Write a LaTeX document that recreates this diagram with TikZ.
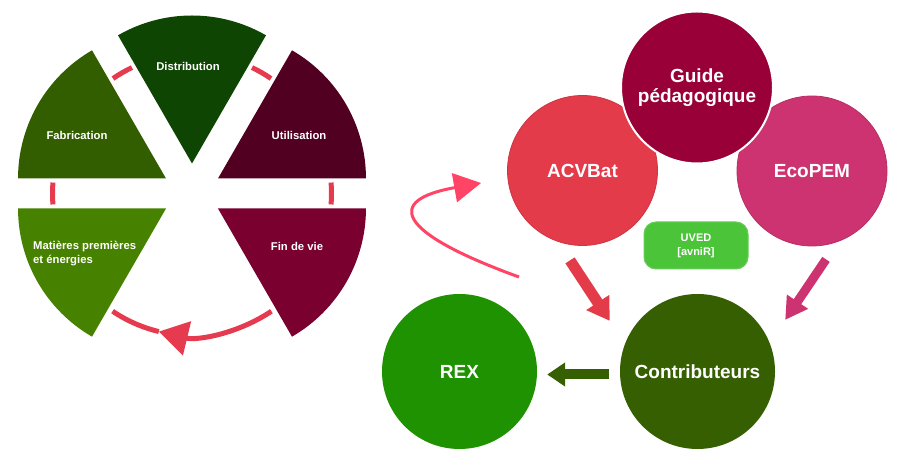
\documentclass[tikz,border=0pt]{standalone}
\usepackage{fontspec}
\setmainfont{Liberation Sans}
\usetikzlibrary{arrows.meta,positioning,calc}
\definecolor{vertD}{HTML}{0E4502}
\definecolor{vertF}{HTML}{335E00}
\definecolor{vertM}{HTML}{468200}
\definecolor{bordU}{HTML}{520022}
\definecolor{bordV}{HTML}{7A0030}
\definecolor{rouge}{HTML}{E63B4F}
\definecolor{rougeA}{HTML}{E43B4A}
\definecolor{bordG}{HTML}{990038}
\definecolor{roseE}{HTML}{CC3370}
\definecolor{vertC}{HTML}{355F00}
\definecolor{vertR}{HTML}{1E9200}
\definecolor{vertU}{HTML}{4CC43A}
\definecolor{roseC}{HTML}{FF4466}
\tikzset{
  txt/.style={text=white,inner sep=0pt,font=\bfseries\fontsize{11.3}{14}\selectfont},
  tir/.style={line width=5pt,rouge},
  rond/.style={circle,fill=#1,minimum size=150pt,inner sep=0pt,text=white,align=center,
    font=\bfseries\fontsize{19}{20}\selectfont},
  boite/.style={draw=vertU!85!white,fill=vertU,line width=1pt,rounded corners=12pt,
    minimum width=104pt,minimum height=47pt,align=center,text=white,
    font=\bfseries\fontsize{11}{14}\selectfont},
  fl/.style={line width=10pt,-{Triangle[length=22pt,width=26pt]}},
  courbe/.style={line width=3pt,roseC,-{Triangle[length=27pt,width=29pt]}},
}
\begin{document}
\begin{tikzpicture}[x=1pt,y=1pt]
  \useasboundingbox (0,0) rectangle (900,465);
  \begin{scope}[shift={(192,271.5)}]
    \foreach \a/\c in {0/bordU,60/vertD,120/vertF,180/vertM,300/bordV}
      \fill[\c] (\a+30:30) -- ++(\a:148) arc[start angle=\a,delta angle=60,radius=148] -- cycle;
    \foreach \a in {0,60,120,180}
      \draw[tir] (\a-4.5:139.5) arc[start angle=\a-4.5,delta angle=9,radius=139.5];
    \draw[tir,-{Triangle[length=29pt,width=34pt]}] (-56:142) arc[start angle=-56,end angle=-103.5,radius=142];
    \draw[tir] (-103.5:142) arc[start angle=-103.5,end angle=-124,radius=142];
    \node[txt] (dist) at (-4,127.5) {Distribution};
    \node[txt] (fab) at (-115,58.5) {Fabrication};
    \node[txt] (util) at (107,58.5) {Utilisation};
    \node[txt] (fin) at (105,-52.5) {Fin de vie};
    \node[txt,align=left,anchor=west] (mat) at (-159,-60.5) {Matières premières\\et énergies};
  \end{scope}
  \node[rond=rougeA,draw=rougeA!90!black,line width=0.8pt] (acv) at (582.5,294.5) {ACVBat};
  \node[rond=roseE,draw=roseE!90!black,line width=0.8pt] (eco) at (812,294) {EcoPEM};
  \node[rond=bordG,draw=white,line width=2pt,minimum size=152pt] (guide) at (697,377.5) {Guide\\pédagogique};
  \node[rond=vertC,minimum size=155pt] (contrib) at (697.5,93.5) {Contributeurs};
  \node[rond=vertR,minimum size=155pt] (rex) at (459.5,93.5) {REX};
  \node[boite] (uved) at (696,219.5) {UVED\\{[avniR]}};
  \draw[fl,rougeA,line width=11pt] ([shift={(-12.5,-14.5)}]acv.south) -- ([shift={(-20.4,11.75)}]contrib.150);
  \draw[fl,roseE,line width=9pt,-{Triangle[length=22pt,width=24pt]}] ([shift={(14,-13)}]eco.south) -- ([shift={(20.4,12.75)}]contrib.30);
  \draw[fl,vertC,-{Triangle[length=18pt,width=23pt]}] ([shift={(-11,-3)}]contrib.west) -- ([shift={(10,-3)}]rex.east);
  \coordinate (dep) at (519,188);
  \coordinate (arr) at (481,282);
  \draw[courbe] (dep) .. controls (395,233) and (385,265) .. (arr);
\end{tikzpicture}
\end{document}
